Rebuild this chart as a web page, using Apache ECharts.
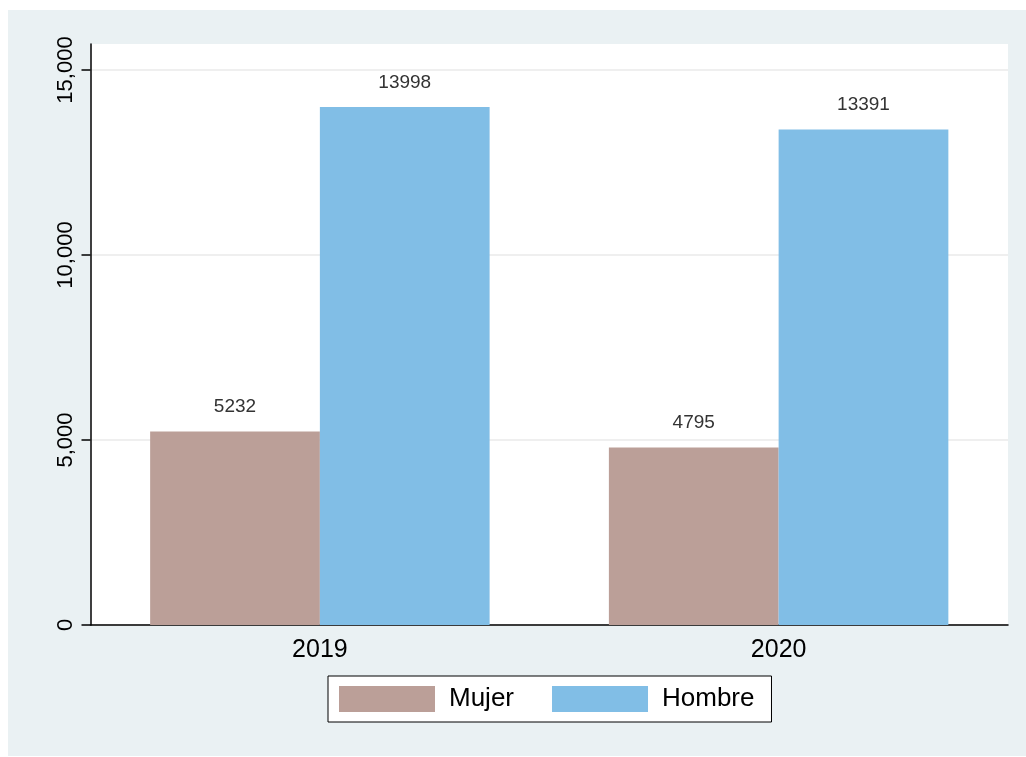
<!DOCTYPE html>
<html>
<head>
<meta charset="utf-8">
<script src="https://cdn.jsdelivr.net/npm/echarts@6/dist/echarts.min.js"></script>
<style>html,body{margin:0;padding:0;background:#fff}#c{width:1026px;height:757px}</style>
</head>
<body>
<div id="c"></div>
<script>
const categories = ['2019', '2020'];
const mujer = [5232, 4795];
const hombre = [13998, 13391];
const yTicks = [0, 5000, 10000, 15000];

const chart = echarts.init(document.getElementById('c'));
const font = 'Liberation Sans, Arial, sans-serif';
chart.setOption({
  backgroundColor: '#ffffff',
  animation: false,
  graphic: [{
    type: 'rect', z: -100, silent: true,
    shape: { x: 8, y: 10, width: 1018, height: 746 },
    style: { fill: '#eaf1f3' }
  }],
  grid: { left: 90.5, right: 18, top: 44, bottom: 132, show: true, backgroundColor: '#ffffff', borderWidth: 0 },
  legend: {
    left: 328, top: 676,
    backgroundColor: '#ffffff', borderColor: '#000000', borderWidth: 1,
    padding: [10, 17, 10, 11],
    itemWidth: 96, itemHeight: 26, itemGap: 38,
    icon: 'rect',
    textStyle: { fontFamily: font, fontSize: 26, lineHeight: 26, color: '#000', padding: [0, 0, 0, 9] },
    data: ['Mujer', 'Hombre']
  },
  xAxis: {
    type: 'category', data: categories,
    axisLine: { lineStyle: { color: '#000', width: 1.5 } },
    axisTick: { show: false },
    axisLabel: { fontFamily: font, fontSize: 25, color: '#000', margin: 13 }
  },
  yAxis: {
    type: 'value', min: 0, max: 15703, interval: 5000,
    axisLine: { show: true, lineStyle: { color: '#000', width: 1.5 } },
    axisTick: { show: true, length: 9, lineStyle: { color: '#000', width: 1.5 }, customValues: yTicks },
    axisLabel: {
      fontFamily: font, fontSize: 22, color: '#000', rotate: 90, margin: 14,
      customValues: yTicks,
      formatter: v => v.toLocaleString('en-US')
    },
    splitLine: { show: true, lineStyle: { color: '#eaeaea', width: 1.5 } }
  },
  series: [
    {
      name: 'Mujer', type: 'bar', data: mujer, barGap: '0%', barCategoryGap: '26%',
      itemStyle: { color: '#bb9f98' },
      label: { show: true, position: 'top', distance: 15, fontFamily: font, fontSize: 19, color: '#333' }
    },
    {
      name: 'Hombre', type: 'bar', data: hombre, barGap: '0%', barCategoryGap: '26%',
      itemStyle: { color: '#81bee6' },
      label: { show: true, position: 'top', distance: 15, fontFamily: font, fontSize: 19, color: '#333' }
    }
  ]
});
</script>
</body>
</html>
